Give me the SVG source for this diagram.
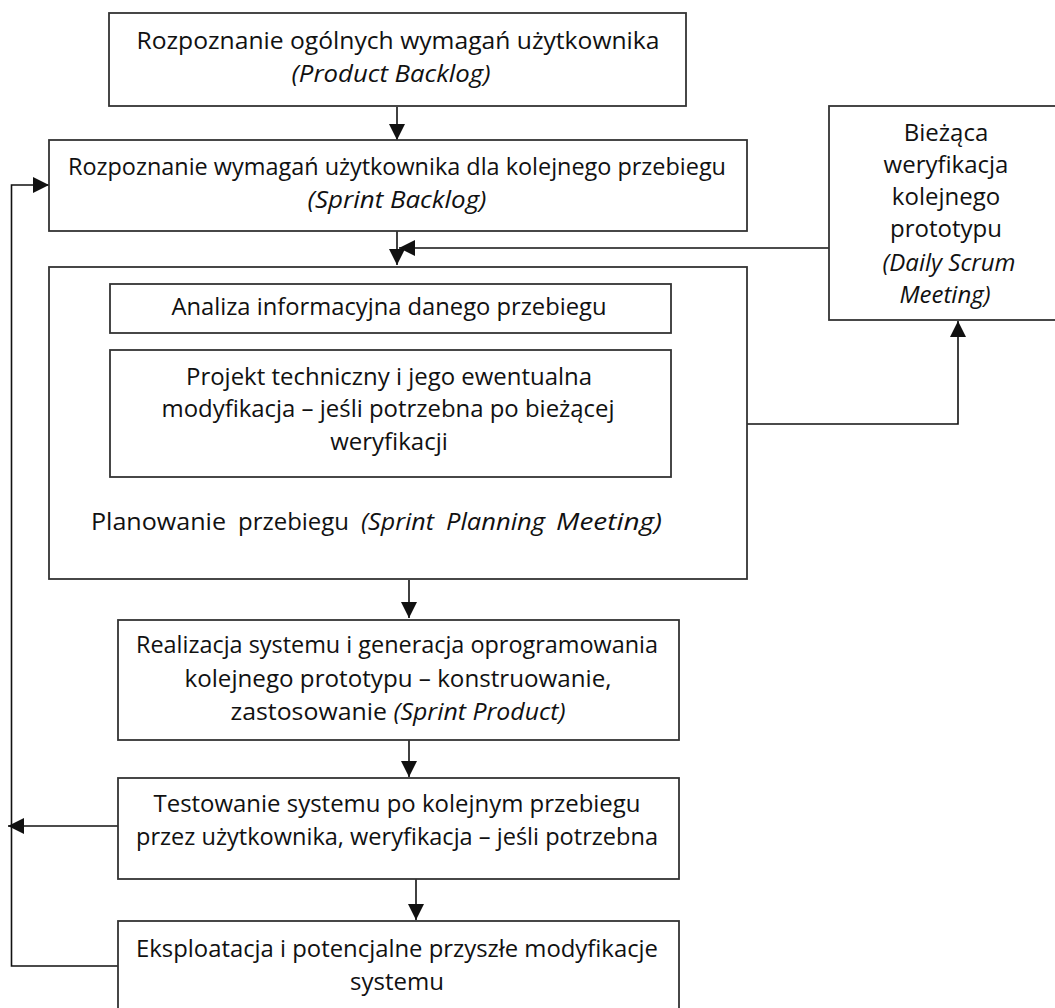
<svg xmlns="http://www.w3.org/2000/svg" width="1055" height="1008" viewBox="0 0 1055 1008">
  <defs>
    <marker id="arrow" viewBox="0 0 10 10" refX="10" refY="5" markerWidth="16" markerHeight="16" markerUnits="userSpaceOnUse" orient="auto">
      <path d="M0,0 L10,5 L0,10 z" fill="#111"/>
    </marker>
    <style>
      .box { fill: #fff; stroke: #333; stroke-width: 1.8; }
      .edge { fill: none; stroke: #111; stroke-width: 1.6; }
      text { font-family: "Open Sans", "Liberation Sans", sans-serif; font-size: 24px; fill: #111; text-anchor: middle; }
      .it { font-style: italic; }
      .l { text-anchor: start; }
    </style>
  </defs>
  <rect width="1055" height="1008" fill="#fff"/>

  <!-- process flow connectors -->
  <g id="connectors">
    <path class="edge" d="M397,107 V140" marker-end="url(#arrow)"/>
    <path class="edge" d="M397,231 V265" marker-end="url(#arrow)"/>
    <path class="edge" d="M829,248 H399" marker-end="url(#arrow)"/>
    <path class="edge" d="M747,424 H958 V321" marker-end="url(#arrow)"/>
    <path class="edge" d="M409,580 V618" marker-end="url(#arrow)"/>
    <path class="edge" d="M409,740 V777" marker-end="url(#arrow)"/>
    <path class="edge" d="M416,879 V920" marker-end="url(#arrow)"/>
    <path class="edge" d="M118,826 H8" marker-end="url(#arrow)"/>
    <path class="edge" d="M118,966 H11.5 V185 H49" marker-end="url(#arrow)"/>
  </g>

  <g id="product-backlog">
    <rect class="box" x="109" y="13" width="577" height="93"/>
    <text x="398" y="49" textLength="523" lengthAdjust="spacingAndGlyphs">Rozpoznanie ogólnych wymagań użytkownika</text>
    <text x="391" y="82" class="it" textLength="199" lengthAdjust="spacingAndGlyphs">(Product Backlog)</text>
  </g>

  <g id="sprint-backlog">
    <rect class="box" x="49" y="140" width="698" height="91"/>
    <text x="397" y="175" textLength="658" lengthAdjust="spacingAndGlyphs">Rozpoznanie wymagań użytkownika dla kolejnego przebiegu</text>
    <text x="397" y="208" class="it" textLength="179" lengthAdjust="spacingAndGlyphs">(Sprint Backlog)</text>
  </g>

  <g id="daily-scrum">
    <rect class="box" x="829" y="106" width="240" height="214"/>
    <text x="946" y="141">Bieżąca</text>
    <text x="946" y="173">weryfikacja</text>
    <text x="946" y="205">kolejnego</text>
    <text x="946" y="237">prototypu</text>
    <text x="949" y="271" class="it">(Daily Scrum</text>
    <text x="945" y="303" class="it">Meeting)</text>
  </g>

  <g id="sprint-planning">
    <rect class="box" x="49" y="267" width="698" height="312"/>
    <text x="91" y="530" class="l" textLength="135" lengthAdjust="spacingAndGlyphs">Planowanie</text>
    <text x="238" y="530" class="l" textLength="111" lengthAdjust="spacingAndGlyphs">przebiegu</text>
    <text x="361" y="530" class="l it" textLength="73" lengthAdjust="spacingAndGlyphs">(Sprint</text>
    <text x="446" y="530" class="l it" textLength="99" lengthAdjust="spacingAndGlyphs">Planning</text>
    <text x="556" y="530" class="l it" textLength="106" lengthAdjust="spacingAndGlyphs">Meeting)</text>
  </g>

  <g id="analysis">
    <rect class="box" x="110" y="284" width="561" height="49"/>
    <text x="389" y="315" textLength="435" lengthAdjust="spacingAndGlyphs">Analiza informacyjna danego przebiegu</text>
  </g>

  <g id="technical-design">
    <rect class="box" x="110" y="350" width="561" height="127"/>
    <text x="389" y="385" textLength="406" lengthAdjust="spacingAndGlyphs">Projekt techniczny i jego ewentualna</text>
    <text x="388" y="417" textLength="453" lengthAdjust="spacingAndGlyphs">modyfikacja – jeśli potrzebna po bieżącej</text>
    <text x="389" y="450">weryfikacji</text>
  </g>

  <g id="sprint-product">
    <rect class="box" x="118" y="620" width="561" height="120"/>
    <text x="397" y="653" textLength="522" lengthAdjust="spacingAndGlyphs">Realizacja systemu i generacja oprogramowania</text>
    <text x="398" y="687" textLength="427" lengthAdjust="spacingAndGlyphs">kolejnego prototypu – konstruowanie,</text>
    <text x="398" y="720" textLength="335" lengthAdjust="spacingAndGlyphs">zastosowanie <tspan class="it">(Sprint Product)</tspan></text>
  </g>

  <g id="testing">
    <rect class="box" x="118" y="778" width="561" height="101"/>
    <text x="397" y="812" textLength="487" lengthAdjust="spacingAndGlyphs">Testowanie systemu po kolejnym przebiegu</text>
    <text x="397" y="845" textLength="522" lengthAdjust="spacingAndGlyphs">przez użytkownika, weryfikacja – jeśli potrzebna</text>
  </g>

  <g id="operation">
    <rect class="box" x="118" y="921" width="561" height="100"/>
    <text x="397" y="957" textLength="522" lengthAdjust="spacingAndGlyphs">Eksploatacja i potencjalne przyszłe modyfikacje</text>
    <text x="397" y="990">systemu</text>
  </g>
</svg>
